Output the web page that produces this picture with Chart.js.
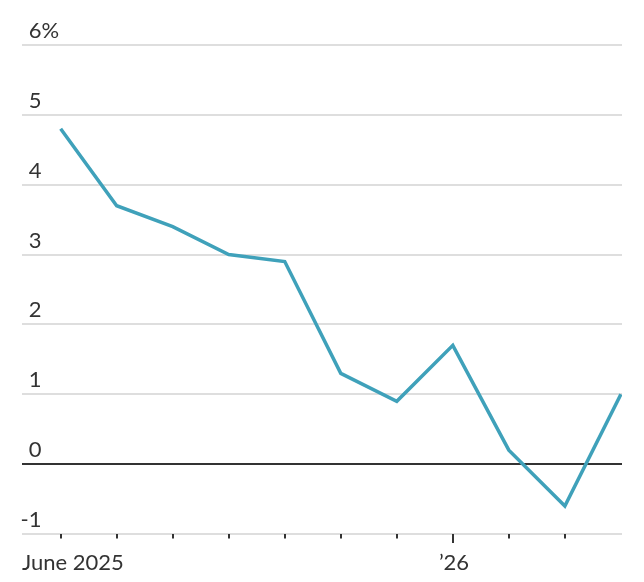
<!DOCTYPE html>
<html>
<head>
<meta charset="utf-8">
<script src="https://cdn.jsdelivr.net/npm/chart.js@4"></script>
<style>
  html, body { margin: 0; padding: 0; background: #ffffff; }
  canvas { display: block; }
</style>
</head>
<body>
<canvas id="c" width="644" height="582"></canvas>
<script>
const months = ['Jun 2025','Jul','Aug','Sep','Oct','Nov','Dec','Jan 2026','Feb','Mar','Apr'];
const values = [4.8, 3.7, 3.4, 3.0, 2.9, 1.3, 0.9, 1.7, 0.2, -0.6, 1.0];
const yTicks = [-1, 0, 1, 2, 3, 4, 5, 6];
const yTickLabels = ['-1', '0', '1', '2', '3', '4', '5', '6%'];
const xTickLabels = ['June 2025', '', '', '', '', '', '', '\u201926', '', ''];
const yearStartTicks = [7];

const LINE_COLOR = '#3fa1ba';
const TEXT_COLOR = '#333333';
const FONT = '22px Lato, "Open Sans", sans-serif';

const labelsPlugin = {
  id: 'customLabels',
  afterDraw(chart) {
    const ctx = chart.ctx;
    const xs = chart.scales.x, ys = chart.scales.y;
    const area = chart.chartArea;
    ctx.save();
    ctx.font = FONT;
    ctx.fillStyle = TEXT_COLOR;
    ctx.textBaseline = 'alphabetic';
    const numRight = 41.5;
    yTicks.forEach((v, i) => {
      const y = ys.getPixelForValue(v) - 7;
      const lbl = yTickLabels[i];
      const m = lbl.match(/^(-?[0-9.]+)(.*)$/);
      const num = m ? m[1] : lbl;
      const suf = m ? m[2] : '';
      ctx.textAlign = 'right';
      ctx.fillText(num, numRight, y);
      if (suf) {
        ctx.textAlign = 'left';
        ctx.fillText(suf, numRight, y);
      }
    });
    ctx.strokeStyle = TEXT_COLOR;
    ctx.lineWidth = 2;
    const base = ys.getPixelForValue(yTicks[0]);
    xTickLabels.forEach((lbl, i) => {
      const x = Math.round(xs.getPixelForValue(i));
      const len = yearStartTicks.includes(i) ? 9 : 4.5;
      ctx.beginPath();
      ctx.moveTo(x, base);
      ctx.lineTo(x, base + len);
      ctx.stroke();
      if (lbl) {
        if (i === 0) {
          ctx.textAlign = 'left';
          ctx.fillText(lbl, area.left, 570);
        } else {
          ctx.textAlign = 'center';
          ctx.fillText(lbl, x + 1, 570);
        }
      }
    });
    ctx.restore();
  }
};

new Chart(document.getElementById('c'), {
  type: 'line',
  data: {
    datasets: [{
      label: 'Change',
      data: values.map((v, i) => ({ x: i, y: v })),
      borderColor: LINE_COLOR,
      borderWidth: 3.5,
      pointRadius: 0,
      tension: 0,
      fill: false,
      borderJoinStyle: 'miter'
    }]
  },
  options: {
    responsive: false,
    animation: false,
    devicePixelRatio: 1,
    layout: { padding: { left: 22, right: 22, top: 45, bottom: 48 } },
    plugins: { legend: { display: false }, tooltip: { enabled: false } },
    scales: {
      x: {
        type: 'linear',
        display: false,
        min: -0.69,
        max: 10.02
      },
      y: {
        type: 'linear',
        min: -1,
        max: 6,
        afterFit(scale) { scale.width = 0; },
        afterBuildTicks(scale) { scale.ticks = yTicks.map(v => ({ value: v })); },
        border: { display: false },
        ticks: { display: false },
        grid: {
          drawTicks: false,
          tickLength: 0,
          lineWidth: 2,
          color: ctx => (ctx.tick && ctx.tick.value === 0) ? '#333333' : '#dedede'
        }
      }
    }
  },
  plugins: [labelsPlugin]
});
</script>
</body>
</html>
